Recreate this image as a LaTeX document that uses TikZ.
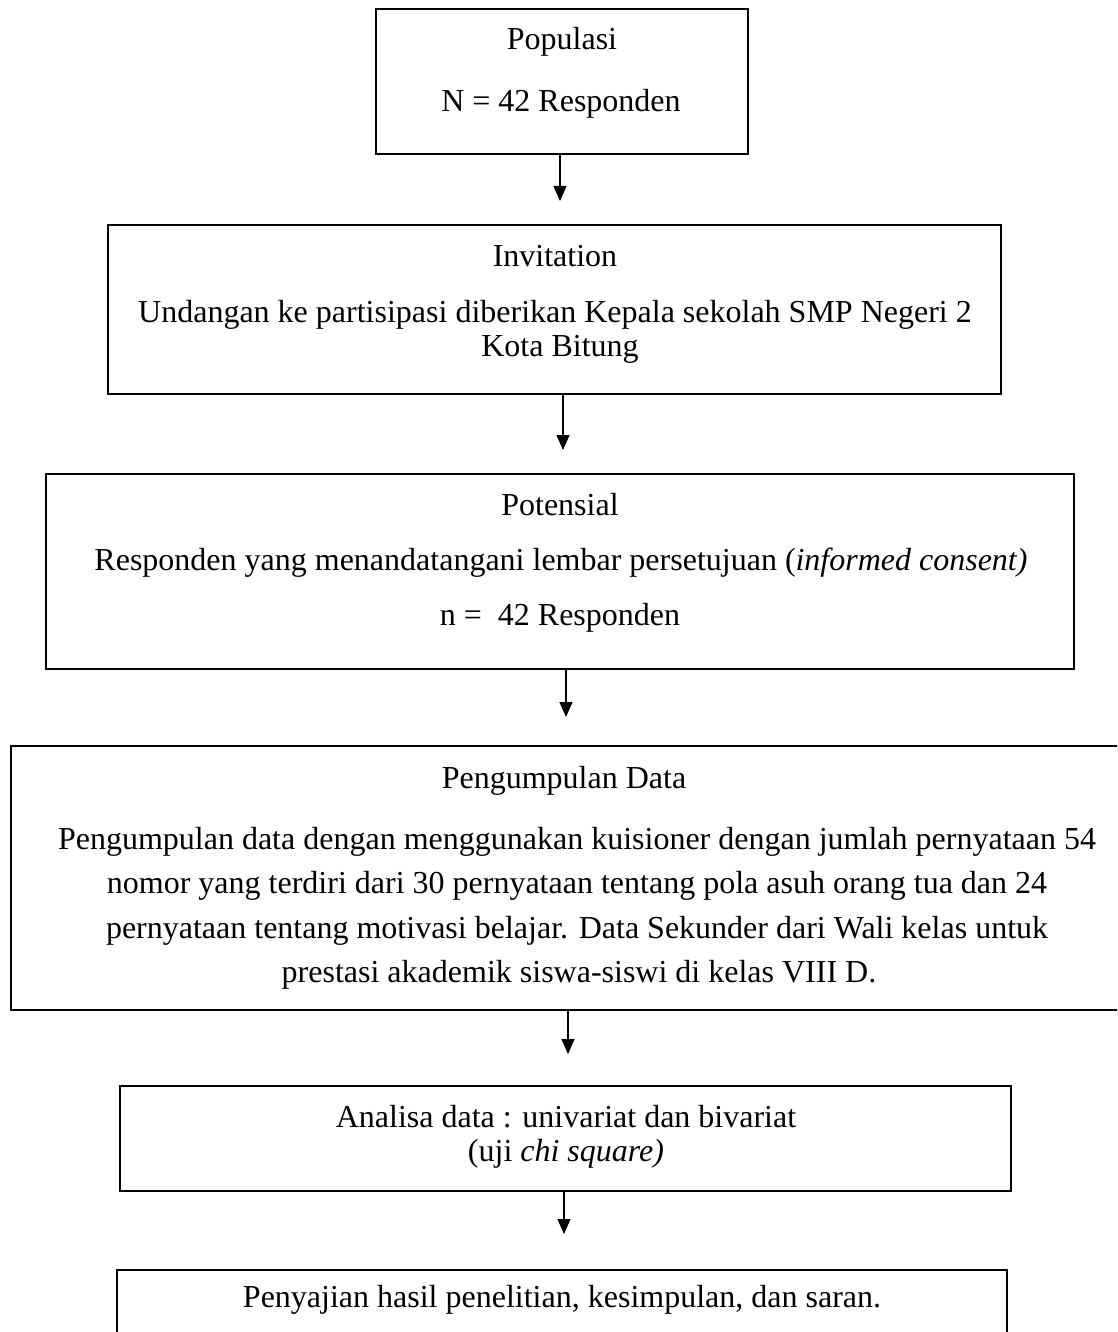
\documentclass[tikz,border=0pt]{standalone}
\usepackage{fontspec}
\setmainfont{Liberation Serif}
\usetikzlibrary{arrows.meta}
\tikzset{
  box/.style={draw=black, line width=2.2pt, inner sep=0pt},
  txt/.style={anchor=base, inner sep=0pt, font=\fontsize{32}{37}\selectfont},
  arr/.style={line width=1.3pt, -{Triangle[length=15pt,width=13pt]}}
}
\begin{document}
\begin{tikzpicture}[x=1pt,y=-1pt]
\useasboundingbox (0,0) rectangle (1117,1332);
\clip (0,0) rectangle (1117,1332);
% boxes
\node[box, minimum width=372pt, minimum height=145pt] (b1) at (562,81.5) {};
\node[box, minimum width=893pt, minimum height=169pt] (b2) at (554.5,309.5) {};
\node[box, minimum width=1028pt, minimum height=195pt] (b3) at (560,571.5) {};
\node[box, minimum width=1132pt, minimum height=264pt] (b4) at (577,878) {};
\node[box, minimum width=891pt, minimum height=105pt] (b5) at (565.5,1138.5) {};
\node[box, minimum width=890pt, minimum height=120pt] (b6) at (562,1330) {};
% texts
\node[txt] (t1a) at (562,50) {Populasi};
\node[txt] (t1b) at (561,112) {N = 42 Responden};
\node[txt] (t2a) at (555,266) {Invitation};
\node[txt] (t2b) at (555,322) {Undangan ke partisipasi diberikan Kepala sekolah SMP Negeri 2};
\node[txt] (t2c) at (560,356) {Kota Bitung};
\node[txt] (t3a) at (560,515) {Potensial};
\node[txt] (t3b) at (561,570) {Responden yang menandatangani lembar persetujuan (\textit{informed consent)}};
\node[txt] (t3c) at (560,625) {n =\ \ 42 Responden};
\node[txt] (t4a) at (564,788) {Pengumpulan Data};
\node[txt] (t4b) at (577,849) {Pengumpulan data dengan menggunakan kuisioner dengan jumlah pernyataan 54};
\node[txt] (t4c) at (577,893) {nomor yang terdiri dari 30 pernyataan tentang pola asuh orang tua dan 24};
\node[txt] (t4d) at (577,938) {pernyataan tentang motivasi belajar. Data Sekunder dari Wali kelas untuk};
\node[txt] (t4e) at (579,982) {prestasi akademik siswa-siswi di kelas VIII D.};
\node[txt] (t5a) at (566,1127) {Analisa data : univariat dan bivariat};
\node[txt] (t5b) at (566,1161) {(uji \textit{chi square)}};
\node[txt] (t6a) at (562,1307) {Penyajian hasil penelitian, kesimpulan, dan saran.};
% arrow tips
\coordinate (p1) at (560,201);
\coordinate (p2) at (563,450);
\coordinate (p3) at (566,717);
\coordinate (p4) at (568,1054);
\coordinate (p5) at (564,1234);
\draw[arr] (b1.south -| p1) -- (p1);
\draw[arr] (b2.south -| p2) -- (p2);
\draw[arr] (b3.south -| p3) -- (p3);
\draw[arr] (b4.south -| p4) -- (p4);
\draw[arr] (b5.south -| p5) -- (p5);
\end{tikzpicture}
\end{document}
